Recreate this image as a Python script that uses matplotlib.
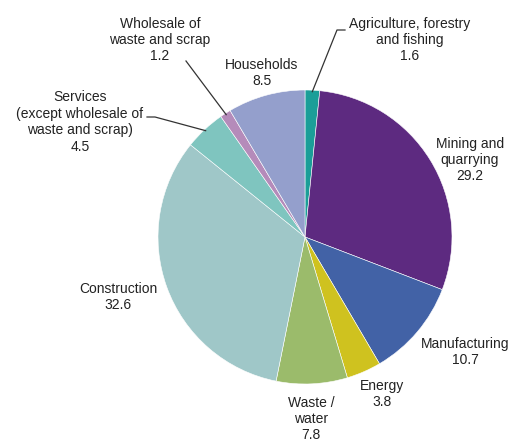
import matplotlib

matplotlib.use("Agg")
import matplotlib.pyplot as plt
import numpy as np

sectors = [
    "Agriculture, forestry\nand fishing",
    "Mining and\nquarrying",
    "Manufacturing",
    "Energy",
    "Waste /\nwater",
    "Construction",
    "Services\n(except wholesale of\nwaste and scrap)",
    "Wholesale of\nwaste and scrap",
    "Households",
]
shares = [1.6, 29.2, 10.7, 3.8, 7.8, 32.6, 4.5, 1.2, 8.5]
colors = ["#1b9e98", "#5d2a80", "#4262a6", "#cfc21f", "#9bbb6b",
          "#9fc7c8", "#7fc5bf", "#b58bba", "#949fcc"]

# layout in image pixels (512x441 canvas)
W, H = 512, 441
CX, CY, R = 305, 237, 147
label_pos = [(410, 40), (470, 160), (465, 352), (382, 394), (311, 419),
             (118, 297), (80, 122), (160, 40), (262, 73)]
# leader lines: (elbow point, text end point) for labels that have one
leaders = {0: [(337, 30), (345, 30)], 6: [(155, 117), (147, 117)], 7: [(186, 61)]}


def px(x, y):
    return (x - CX) / R, (CY - y) / R


plt.rcParams["font.family"] = ["Liberation Sans", "DejaVu Sans"]
fig = plt.figure(figsize=(W / 100, H / 100), dpi=100)
ax = fig.add_axes([0, 0, 1, 1])

wedges, _ = ax.pie(shares, colors=colors, startangle=90, counterclock=False,
                   radius=1.0, wedgeprops=dict(edgecolor="white", linewidth=0.4))
ax.set_aspect("auto")
ax.set_xlim(px(0, 0)[0], px(W, 0)[0])
ax.set_ylim(px(0, H)[1], px(0, 0)[1])
ax.axis("off")

for i, (name, val) in enumerate(zip(sectors, shares)):
    x, y = px(*label_pos[i])
    ax.text(x, y, f"{name}\n{val}", ha="center", va="center", fontsize=10,
            color="#222222", linespacing=1.22)
    if i in leaders:
        w = wedges[i]
        ang = np.deg2rad((w.theta1 + w.theta2) / 2)
        pts = [(np.cos(ang) * 0.99, np.sin(ang) * 0.99)] + [px(*p) for p in leaders[i]]
        xs, ys = zip(*pts)
        ax.plot(xs, ys, color="#333333", linewidth=0.9)

fig.savefig("out.png", dpi=100)
plt.close(fig)
